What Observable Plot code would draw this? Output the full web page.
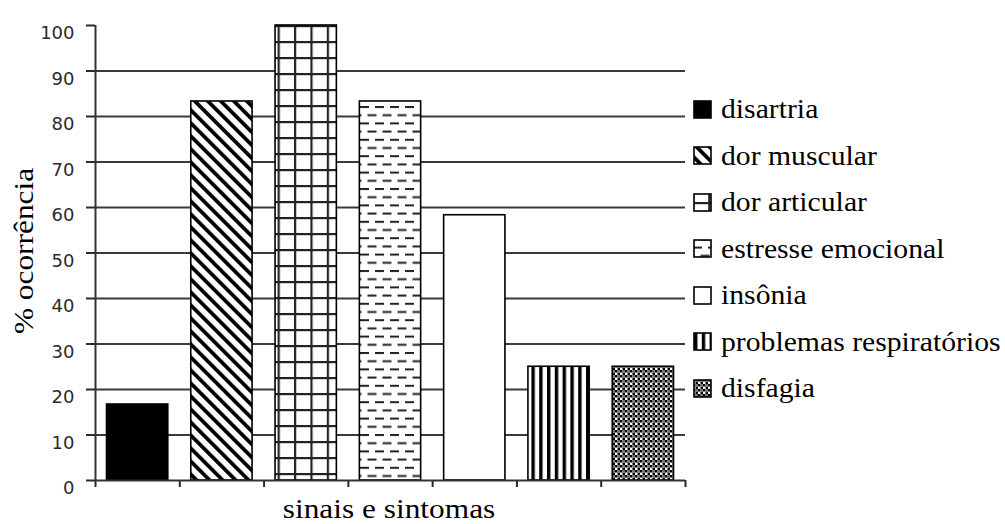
<!DOCTYPE html>
<html><head><meta charset="utf-8">
<script src="https://cdn.jsdelivr.net/npm/d3@7"></script>
<script src="https://cdn.jsdelivr.net/npm/@observablehq/plot@0.6"></script>
<style>
body{margin:0;background:#fff;}
#wrap{position:relative;width:1005px;height:524px;overflow:hidden;background:#fff;}
#wrap > svg{position:absolute;left:0;top:0;}
#legend{position:absolute;left:693px;top:0;width:312px;height:524px;}
.row{position:absolute;left:0;height:30px;display:flex;align-items:center;white-space:nowrap;}
.row svg{flex:none;}
.row span{font-family:"Liberation Serif","Times New Roman",Times,Tinos,"DejaVu Serif",serif;font-size:27px;color:#000;margin-left:9px;display:inline-block;transform:scaleX(1.1);transform-origin:left center;line-height:30px;}
svg [aria-label^="x-axis"] path, svg [aria-label^="x-axis"] line,
svg [aria-label^="y-axis"] path, svg [aria-label^="y-axis"] line{stroke-width:2px;}
.serif-title{font-family:"Liberation Serif","Times New Roman",Times,Tinos,"DejaVu Serif",serif !important;}
</style></head>
<body>
<svg width="0" height="0" style="position:absolute">
 <defs>
  <pattern id="p-diag" patternUnits="userSpaceOnUse" width="9.2" height="9.2" patternTransform="rotate(-45)">
   <rect width="9.2" height="9.2" fill="#fff"/><rect x="0" y="0" width="3.8" height="9.2" fill="#000"/>
  </pattern>
  <pattern id="p-grid" patternUnits="userSpaceOnUse" x="15.2" y="9" width="16.4" height="16">
   <rect width="16.4" height="16" fill="#fff"/><rect x="0" y="0" width="2.2" height="16" fill="#222"/><rect x="0" y="0" width="16.4" height="2.2" fill="#222"/>
  </pattern>
  <pattern id="p-dash" patternUnits="userSpaceOnUse" x="0" y="7.6" width="15" height="16.4">
   <rect width="15" height="16.4" fill="#fff"/><rect x="0" y="0" width="9" height="2" fill="#222"/><rect x="7.5" y="8.2" width="9" height="2" fill="#222"/><rect x="-7.5" y="8.2" width="9" height="2" fill="#222"/>
  </pattern>
  <pattern id="p-vert" patternUnits="userSpaceOnUse" x="1" y="0" width="7.8" height="10">
   <rect width="7.8" height="10" fill="#fff"/><rect x="0" y="0" width="3.4" height="10" fill="#000"/>
  </pattern>
  <pattern id="p-check" patternUnits="userSpaceOnUse" x="0" y="0" width="5" height="5">
   <rect width="5" height="5" fill="#fff"/><rect x="0" y="0" width="2.5" height="2.5" fill="#000"/><rect x="2.5" y="2.5" width="2.5" height="2.5" fill="#000"/><rect x="2.5" y="0" width="2.5" height="2.5" fill="#777"/>
  </pattern>
 </defs>
</svg>
<div id="wrap"></div>
<script>
const categories = ["disartria", "dor muscular", "dor articular", "estresse emocional", "insônia", "problemas respiratórios", "disfagia"];
const values = [16.7, 83.3, 100, 83.3, 58.3, 25, 25];
const yTicks = [0, 10, 20, 30, 40, 50, 60, 70, 80, 90, 100];
const gridValues = [10, 20, 30, 40, 50, 60, 70, 80, 90];
const xTitle = "sinais e sintomas";
const yTitle = "% ocorrência";
const fills = ["#000", "url(#p-diag)", "url(#p-grid)", "url(#p-dash)", "#fff", "url(#p-vert)", "url(#p-check)"];

const data = categories.map((c, i) => ({category: c, index: i, value: values[i]}));
const n = categories.length;
const serif = "'Liberation Serif', 'Times New Roman', Times, Tinos, 'DejaVu Serif', serif";

const chart = Plot.plot({
  width: 1005, height: 524,
  marginLeft: 95, marginRight: 320, marginTop: 25, marginBottom: 44,
  style: {fontFamily: "'DejaVu Sans', sans-serif", fontSize: "18px", color: "#2a2a2a", background: "transparent", overflow: "visible"},
  x: {domain: [0, n], ticks: d3.range(0, n + 1), tickFormat: () => "", tickSize: 7, label: null},
  y: {domain: [0, 100], ticks: yTicks, tickSize: 9, tickPadding: 12, label: null},
  color: {type: "ordinal", domain: categories, range: fills},
  marks: [
    Plot.ruleY(gridValues, {stroke: "#3a3a3a", strokeWidth: 2}),
    Plot.rect(data, {x1: "index", x2: d => d.index + 1, y1: 0, y2: "value", fill: "category", stroke: "#000", strokeWidth: 1.6, insetLeft: 11.5, insetRight: 11.5}),
    Plot.ruleY([0], {stroke: "#333", strokeWidth: 2}),
    Plot.ruleX([0], {stroke: "#333", strokeWidth: 2}),
    Plot.text([xTitle], {frameAnchor: "bottom", text: d => d, fontSize: 28, fontFamily: serif, fill: "#000"}),
    Plot.text([yTitle], {frameAnchor: "left", text: d => d, fontSize: 28, fontFamily: serif, fill: "#000"})
  ]
});

// place the axis titles (stretched serif like the reference)
chart.querySelectorAll("text").forEach(t => {
  const s = t.textContent;
  if (s === xTitle || s === yTitle) {
    ["x", "y", "dx", "dy"].forEach(a => t.removeAttribute(a));
    if (t.parentNode && t.parentNode.removeAttribute) t.parentNode.removeAttribute("transform");
    t.setAttribute("text-anchor", "middle");
    t.setAttribute("class", "serif-title");
    t.style.fontFamily = serif;
    if (s === xTitle) t.setAttribute("transform", "translate(389,518) scale(1.12,1)");
    else t.setAttribute("transform", "translate(33,251) rotate(-90) scale(1.12,1)");
  }
});
// nudge y tick labels slightly down like the reference
chart.querySelectorAll('[aria-label^="y-axis"] text').forEach(t => {
  if (t.textContent !== yTitle) t.setAttribute("dy", "0.45em");
});

const wrap = document.getElementById("wrap");
wrap.appendChild(chart);

// legend
const legend = document.createElement("div");
legend.id = "legend";
categories.forEach((c, i) => {
  const row = document.createElement("div");
  row.className = "row";
  row.style.top = (109 + 46.5 * i - 15) + "px";
  const ns = "http://www.w3.org/2000/svg";
  const sw = document.createElementNS(ns, "svg");
  sw.setAttribute("width", 19); sw.setAttribute("height", 19);
  const r = document.createElementNS(ns, "rect");
  r.setAttribute("x", 1); r.setAttribute("y", 1); r.setAttribute("width", 17); r.setAttribute("height", 17);
  r.setAttribute("fill", fills[i]); r.setAttribute("stroke", "#000"); r.setAttribute("stroke-width", 1.6);
  sw.appendChild(r);
  row.appendChild(sw);
  const sp = document.createElement("span");
  sp.textContent = c;
  row.appendChild(sp);
  legend.appendChild(row);
});
wrap.appendChild(legend);
</script>
</body></html>
